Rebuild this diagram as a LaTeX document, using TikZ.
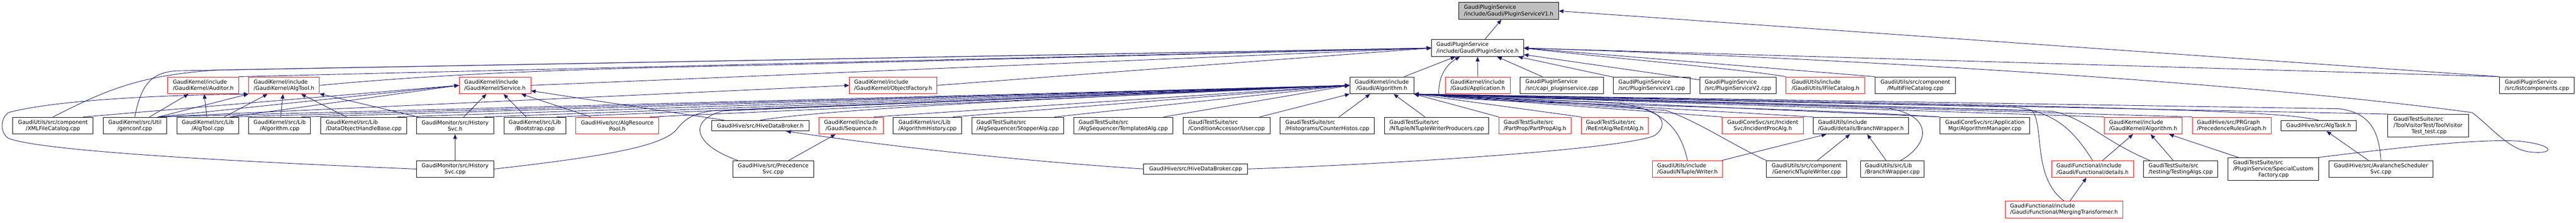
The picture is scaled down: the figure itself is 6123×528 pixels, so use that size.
\documentclass[tikz,border=0pt]{standalone}
\usepackage{fontspec}
\setmainfont{DejaVu Sans}
\usetikzlibrary{arrows.meta}

\definecolor{edgeblue}{RGB}{25,25,112}
\definecolor{rootgray}{RGB}{191,191,191}

\begin{document}
\begin{tikzpicture}[x=1pt,y=-1pt,
        font=\fontsize{12.8}{15}\selectfont,
        filebox/.style={draw=black,line width=1.2pt,rectangle,inner sep=0pt,minimum height=40pt,align=left},
        cutbox/.style={filebox,draw=red},
        rootbox/.style={filebox,fill=rootgray},
        dep/.style={draw=edgeblue,line width=1.1pt,-{Triangle[length=11pt,width=9pt]}}]
        \useasboundingbox (0,0) rectangle (6123,528);

        % Draw the file itself and the plugin service header
        \node[rootbox,minimum width=237pt] (psvoneh) at (3586,26) {GaudiPluginService\\/include/Gaudi/PluginServiceV1.h};
        \node[filebox,minimum width=219pt] (psh) at (3512,114) {GaudiPluginService\\/include/Gaudi/PluginService.h};

        % Draw second row
        \node[cutbox,minimum width=168pt] (auditor) at (483,202.5) {GaudiKernel/include\\/GaudiKernel/Auditor.h};
        \node[cutbox,minimum width=168pt] (algtoolh) at (675,202.5) {GaudiKernel/include\\/GaudiKernel/AlgTool.h};
        \node[cutbox,minimum width=170pt] (serviceh) at (1176.5,202.5) {GaudiKernel/include\\/GaudiKernel/Service.h};
        \node[cutbox,minimum width=208pt] (objfac) at (2123,202.5) {GaudiKernel/include\\/GaudiKernel/ObjectFactory.h};
        \node[filebox,minimum width=152pt,align=center] (alg) at (3284.5,202.5) {GaudiKernel/include\\/Gaudi/Algorithm.h};
        \node[cutbox,minimum width=154pt] (apph) at (3512.5,202.5) {GaudiKernel/include\\/Gaudi/Application.h};
        \node[filebox,minimum width=198pt] (capi) at (3712.5,202.5) {GaudiPluginService\\/src/capi\_pluginservice.cpp};
        \node[filebox,minimum width=182pt] (psvonecpp) at (3926,202.5) {GaudiPluginService\\/src/PluginServiceV1.cpp};
        \node[filebox,minimum width=182pt] (psvtwocpp) at (4131,202.5) {GaudiPluginService\\/src/PluginServiceV2.cpp};
        \node[cutbox,minimum width=187pt] (ifilecat) at (4339,202.5) {GaudiUtils/include\\/GaudiUtils/IFileCatalog.h};
        \node[filebox,minimum width=191pt,align=center] (multifc) at (4552.5,202.5) {GaudiUtils/src/component\\/MultiFileCatalog.cpp};
        \node[filebox,minimum width=177pt] (listcomp) at (6030,202.5) {GaudiPluginService\\/src/listcomponents.cpp};

        % Draw third row
        \node[filebox,minimum width=191pt,align=center] (xmlfc) at (125.8,298) {GaudiUtils/src/component\\/XMLFileCatalog.cpp};
        \node[filebox,minimum width=151pt,align=center] (genconf) at (320.5,298) {GaudiKernel/src/Util\\/genconf.cpp};
        \node[filebox,minimum width=147pt,align=center] (algtoolcpp) at (494,298) {GaudiKernel/src/Lib\\/AlgTool.cpp};
        \node[filebox,minimum width=147pt,align=center] (algcpp) at (664.7,298) {GaudiKernel/src/Lib\\/Algorithm.cpp};
        \node[filebox,minimum width=204pt] (dohb) at (864.5,298) {GaudiKernel/src/Lib\\/DataObjectHandleBase.cpp};
        \node[filebox,minimum width=183pt,align=center] (histsvch) at (1081.7,298) {GaudiMonitor/src/History\\Svc.h};
        \node[filebox,minimum width=147pt,align=center] (bootstrap) at (1271.2,298) {GaudiKernel/src/Lib\\/Bootstrap.cpp};
        \node[cutbox,minimum width=198pt,align=center] (algrespool) at (1467.2,298) {GaudiHive/src/AlgResource\\Pool.h};
        \node[filebox,minimum width=232pt,minimum height=25pt] (hivedbh) at (1807.2,298.2) {GaudiHive/src/HiveDataBroker.h};
        \node[cutbox,minimum width=152pt,align=center] (sequenceh) at (2023,298) {GaudiKernel/include\\/Gaudi/Sequence.h};
        \node[filebox,minimum width=163pt] (alghist) at (2204.5,298) {GaudiKernel/src/Lib\\/AlgorithmHistory.cpp};
        \node[filebox,minimum width=218pt] (stopper) at (2419,298) {GaudiTestSuite/src\\/AlgSequencer/StopperAlg.cpp};
        \node[filebox,minimum width=235pt] (templated) at (2669.8,298) {GaudiTestSuite/src\\/AlgSequencer/TemplatedAlg.cpp};
        \node[filebox,minimum width=207pt] (user) at (2915.2,298) {GaudiTestSuite/src\\/ConditionAccessor/User.cpp};
        \node[filebox,minimum width=224pt] (counterh) at (3155,298) {GaudiTestSuite/src\\/Histograms/CounterHistos.cpp};
        \node[filebox,minimum width=248pt] (ntwp) at (3415,298) {GaudiTestSuite/src\\/NTuple/NTupleWriterProducers.cpp};
        \node[cutbox,minimum width=171pt] (partprop) at (3648.5,298) {GaudiTestSuite/src\\/PartProp/PartPropAlg.h};
        \node[cutbox,minimum width=159pt] (reent) at (3838,298) {GaudiTestSuite/src\\/ReEntAlg/ReEntAlg.h};
        \node[cutbox,minimum width=193pt,align=center] (incproc) at (4190,298) {GaudiCoreSvc/src/Incident\\Svc/IncidentProcAlg.h};
        \node[filebox,minimum width=227pt] (bwh) at (4423.2,298) {GaudiUtils/include\\/Gaudi/details/BranchWrapper.h};
        \node[filebox,minimum width=214pt,align=center] (algmgr) at (4717.8,298) {GaudiCoreSvc/src/Application\\Mgr/AlgorithmManager.cpp};
        \node[cutbox,minimum width=185pt] (gkalg) at (5094,298) {GaudiKernel/include\\/GaudiKernel/Algorithm.h};
        \node[cutbox,minimum width=187pt] (prgraph) at (5304.5,298) {GaudiHive/src/PRGraph\\/PrecedenceRulesGraph.h};
        \node[filebox,minimum width=179pt,minimum height=25pt] (algtask) at (5511.2,298.2) {GaudiHive/src/AlgTask.h};
        \node[filebox,minimum width=192pt,minimum height=54pt] (tvtest) at (5771.3,298.2) {GaudiTestSuite/src\\/ToolVisitorTest/ToolVisitor\\\hspace*{43pt}Test\_test.cpp};

        % Draw fourth and fifth rows
        \node[filebox,minimum width=183pt,align=center] (histsvccpp) at (1081.7,401) {GaudiMonitor/src/History\\Svc.cpp};
        \node[filebox,minimum width=192pt,align=center] (precsvc) at (1837.8,401) {GaudiHive/src/Precedence\\Svc.cpp};
        \node[filebox,minimum width=247pt,minimum height=25pt] (hivedbcpp) at (2841.8,400.8) {GaudiHive/src/HiveDataBroker.cpp};
        \node[cutbox,minimum width=167pt] (writer) at (4011,401) {GaudiUtils/include\\/Gaudi/NTuple/Writer.h};
        \node[filebox,minimum width=191pt,align=center] (gntw) at (4294,401) {GaudiUtils/src/component\\/GenericNTupleWriter.cpp};
        \node[filebox,minimum width=151pt] (bwcpp) at (4498,401) {GaudiUtils/src/Lib\\/BranchWrapper.cpp};
        \node[cutbox,minimum width=195pt] (details) at (4973.8,401) {GaudiFunctional/include\\/Gaudi/Functional/details.h};
        \node[filebox,minimum width=176pt] (testing) at (5183.3,401) {GaudiTestSuite/src\\/testing/TestingAlgs.cpp};
        \node[filebox,minimum width=215pt,minimum height=54pt] (specialcf) at (5403.2,401) {GaudiTestSuite/src\\/PluginService/SpecialCustom\\\hspace*{60pt}Factory.cpp};
        \node[filebox,minimum width=248pt,align=center] (avalanche) at (5659.2,401) {GaudiHive/src/AvalancheScheduler\\Svc.cpp};
        \node[cutbox,minimum width=279pt] (merging) at (4905.8,497) {GaudiFunctional/include\\/Gaudi/Functional/MergingTransformer.h};

        % Draw edges into the file itself
        \draw[dep] (psh) -- (psvoneh);
        \draw[dep] (listcomp.north west) -- (psvoneh.east);

        % Draw edges into PluginService.h
        \draw[dep] (xmlfc.north) .. controls (250,215) and (330,178) .. (520,166) -- (psh.west);
        \draw[dep] (genconf.north) .. controls (335,200) and (360,172) .. (420,168) -- (psh.west);
        \draw[dep] (auditor.north east) -- (psh.west);
        \draw[dep] (algtoolh.east) .. controls (980,182) and (1250,165) .. (1800,155) -- (psh.west);
        \draw[dep] (serviceh.east) -- (psh.west);
        \draw[dep] (objfac.east) -- (psh.west);
        \draw[dep] (alg) -- (psh);
        \draw[dep] (apph) -- (psh);
        \draw[dep] (capi) -- (psh);
        \draw[dep] (psvonecpp) -- (psh);
        \draw[dep] (psvtwocpp) -- (psh);
        \draw[dep] (ifilecat.north west) .. controls (4150,165) and (3800,135) .. (psh.east);
        \draw[dep] (multifc.north west) -- (psh.east);
        \draw[dep] (listcomp.north west) -- (psh.east);
        \draw[dep] (algmgr.north west) .. controls (4200,250) and (3420,245) .. (3420,225)
            .. controls (3418,185) and (3435,155) .. ([xshift=-42pt]psh.south);
        \draw[dep] (specialcf.north east) .. controls (5700,350) and (5900,328) .. (5990,335)
            .. controls (6080,345) and (6070,368) .. (6010,360)
            .. controls (5960,352) and (5920,300) .. (5876,267)
            .. controls (5300,190) and (4300,135) .. (psh.east);

        % Draw edges into Auditor.h, AlgTool.h, Service.h and ObjectFactory.h
        \draw[dep] (genconf) -- (auditor);
        \draw[dep] (algtoolcpp) -- (auditor);
        \draw[dep] ([xshift=-20pt]genconf.north east) -- (algtoolh.south west);
        \draw[dep] (algtoolcpp) -- (algtoolh);
        \draw[dep] (algcpp) -- (algtoolh);
        \draw[dep] (dohb) -- (algtoolh);
        \draw[dep] (histsvch) -- (algtoolh);
        \draw[dep] (histsvccpp.west) .. controls (600,385) and (100,360) .. (20,328)
            .. controls (0,315) and (0,282) .. (20,267)
            .. controls (120,240) and (350,226) .. (algtoolh.south west);
        \draw[dep] (histsvccpp) -- (histsvch);
        \draw[dep] ([xshift=-24pt]xmlfc.north east) -- (serviceh.west);
        \draw[dep] ([xshift=-20pt]genconf.north east) -- (serviceh.west);
        \draw[dep] ([xshift=-20pt]algtoolcpp.north east) -- (serviceh.west);
        \draw[dep] (histsvch) -- (serviceh);
        \draw[dep] (bootstrap) -- (serviceh);
        \draw[dep] (algrespool) -- (serviceh);
        \draw[dep] (hivedbh) -- (serviceh);
        \draw[dep] ([xshift=-20pt]genconf.north east) -- (objfac.west);

        % Draw edges into Gaudi/Algorithm.h from the left
        \foreach \src in {genconf,algtoolcpp,algcpp,dohb,histsvch,bootstrap,algrespool,sequenceh,alghist,stopper,templated}
            \draw[dep] ([xshift=-22pt]\src.north east) -- (alg.west);
        \draw[dep] ([xshift=-25pt]user.north east) -- (alg.south west);
        \draw[dep] (counterh) -- (alg);
        \draw[dep] (ntwp) -- (alg);
        \draw[dep] (hivedbh.north) .. controls (2000,255) and (2600,230) .. (alg.west);
        \draw[dep] (histsvccpp.east) .. controls (1450,370) and (1580,345) .. (1610,305)
            .. controls (1630,280) and (1650,268) .. (1700,262) -- (alg.west);
        \draw[dep] ([xshift=12pt]precsvc.north west) .. controls (1640,340) and (1640,282) .. (1720,263) -- (alg.west);
        \draw[dep] (hivedbcpp.east) .. controls (3300,390) and (3850,355) .. (3932,322)
            .. controls (3965,300) and (3955,268) .. (3900,257)
            .. controls (3700,238) and (3450,228) .. (alg.south east);

        % Draw edges into Gaudi/Algorithm.h from the right
        \foreach \src in {partprop,reent,incproc,bwh,algmgr,gkalg,prgraph,tvtest}
            \draw[dep] (\src.north west) -- (alg.south east);
        \draw[dep] (algtask.north) .. controls (5420,265) and (5200,255) .. (alg.south east);
        \draw[dep] (writer.north) .. controls (3995,310) and (3960,262) .. (3850,245) -- (alg.south east);
        \draw[dep] (gntw.north west) .. controls (4120,345) and (4040,290) .. (3960,262) -- (alg.south east);
        \draw[dep] ([xshift=20pt]bwcpp.north) .. controls (4590,340) and (4595,270) .. (4480,256) -- (alg.south east);
        \draw[dep] (details.north) .. controls (4935,320) and (4895,268) .. (4790,254) -- (alg.south east);
        \draw[dep] (merging.north) .. controls (4830,420) and (4860,300) .. (4830,262) -- (alg.south east);
        \draw[dep] ([xshift=15pt]testing.north west) .. controls (5000,335) and (4960,282) .. (4880,264) -- (alg.south east);
        \draw[dep] (avalanche.north) .. controls (5655,320) and (5640,268) .. (5560,258) -- (alg.south east);

        % Draw the remaining edges
        \draw[dep] (writer) -- (bwh);
        \draw[dep] (gntw) -- (bwh);
        \draw[dep] (bwcpp) -- (bwh);
        \draw[dep] (details) -- (gkalg);
        \draw[dep] (testing) -- (gkalg);
        \draw[dep] (specialcf) -- (gkalg);
        \draw[dep] (merging) -- (details);
        \draw[dep] (avalanche) -- (algtask);
        \draw[dep] (precsvc) -- (sequenceh);
        \draw[dep] (hivedbcpp.west) .. controls (2400,380) and (2100,345) .. ([xshift=-55pt]hivedbh.south east);
    \end{tikzpicture}
\end{document}
